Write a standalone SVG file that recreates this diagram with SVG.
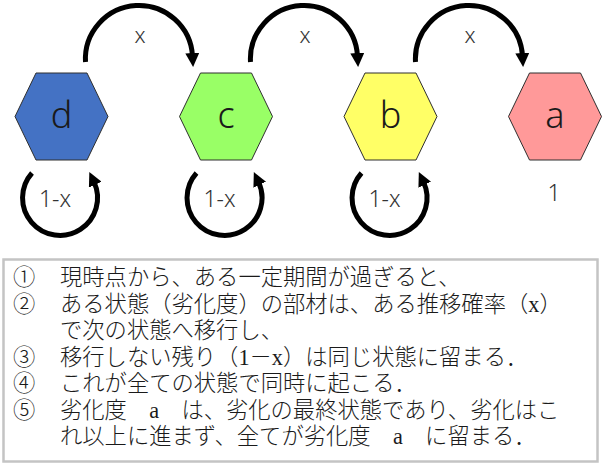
<svg xmlns="http://www.w3.org/2000/svg" width="606" height="463" viewBox="0 0 606 463">
<style>
.hex{stroke:#2f2f2f;stroke-width:1}
.lbl{font-family:"Noto Sans","Liberation Sans",sans-serif;font-weight:300;fill:#1a1a1a;text-anchor:middle}
.big{font-size:36px}
.sm{font-size:22px;fill:#333}
.lp{font-size:23px;fill:#333}
.conn{fill:none;stroke:#000;stroke-width:5}
.txt{font-family:"Liberation Serif","Noto Sans CJK JP",serif;font-weight:300;font-size:22.3px;fill:#1a1a1a}
</style>
<defs>
<marker id="ah" viewBox="0 0 14 14" markerWidth="14" markerHeight="14" refX="3" refY="7" orient="auto" markerUnits="userSpaceOnUse">
<path d="M0,0 L14,7 L0,14 z" fill="#000"/>
</marker>
<polygon id="hexshape" points="-46.5,0 -25.5,-43.5 25.5,-43.5 46.5,0 25.5,43.5 -25.5,43.5"/>
</defs>
<rect width="606" height="463" fill="#fff"/>
<g id="node-d"><use href="#hexshape" x="61.5" y="116.5" class="hex" fill="#4472C4"/><text class="lbl big" x="61.5" y="128">d</text></g>
<g id="node-c"><use href="#hexshape" x="226" y="116.5" class="hex" fill="#99FF66"/><text class="lbl big" x="226" y="128">c</text></g>
<g id="node-b"><use href="#hexshape" x="390.5" y="116.5" class="hex" fill="#FFFF66"/><text class="lbl big" x="390.5" y="128">b</text></g>
<g id="node-a"><use href="#hexshape" x="555" y="116.5" class="hex" fill="#FF9999"/><text class="lbl big" x="555" y="128">a</text><text class="lbl lp" x="554" y="201">1</text></g>
<g id="connectors">
<path class="conn" marker-end="url(#ah)" d="M85.5,62 A53.5,53.5 0 0 1 192.5,56"/>
<path class="conn" marker-end="url(#ah)" d="M250.5,62 A53.5,53.5 0 0 1 357.5,56"/>
<path class="conn" marker-end="url(#ah)" d="M415.5,62 A53.5,53.5 0 0 1 522.5,56"/>
<path class="conn" marker-end="url(#ah)" d="M32,173 A37.5,37.5 0 1 0 94,182"/>
<path class="conn" marker-end="url(#ah)" d="M196.5,173 A37.5,37.5 0 1 0 258.5,182"/>
<path class="conn" marker-end="url(#ah)" d="M361.5,173 A37.5,37.5 0 1 0 423.5,182"/>
<text class="lbl sm" x="140" y="43">x</text>
<text class="lbl sm" x="305" y="43">x</text>
<text class="lbl sm" x="470" y="43">x</text>
<text class="lbl lp" x="55" y="207">1-x</text>
<text class="lbl lp" x="219.5" y="207">1-x</text>
<text class="lbl lp" x="384.5" y="207">1-x</text>
</g>
<g id="note">
<rect x="3.5" y="259.5" width="594" height="202" fill="#fff" stroke="#c4c4c4" stroke-width="2.5"/>
<text class="txt" x="13" y="285">①</text><text class="txt" x="60" y="285">現時点から、ある一定期間が過ぎると、</text>
<text class="txt" x="13" y="311.5">②</text><text class="txt" x="60" y="311.5">ある状態（劣化度）の部材は、ある推移確率（x）</text>
<text class="txt" x="60" y="338">で次の状態へ移行し、</text>
<text class="txt" x="13" y="364.5">③</text><text class="txt" x="60" y="364.5">移行しない残り（1－x）は同じ状態に留まる．</text>
<text class="txt" x="13" y="391">④</text><text class="txt" x="60" y="391">これが全ての状態で同時に起こる．</text>
<text class="txt" x="13" y="417.5">⑤</text><text class="txt" x="60" y="417.5">劣化度　a　は、劣化の最終状態であり、劣化はこ</text>
<text class="txt" x="60" y="444">れ以上に進まず、全てが劣化度　a　に留まる．</text>
</g>
</svg>
